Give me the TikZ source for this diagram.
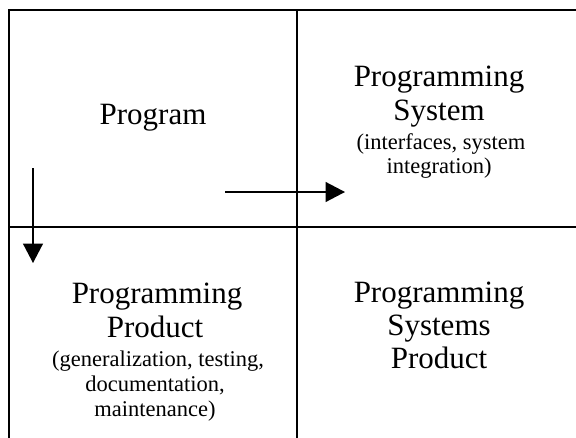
\documentclass[tikz,border=0pt]{standalone}
\usepackage{fontspec}
\setmainfont{Liberation Serif}
\usetikzlibrary{arrows.meta}
\begin{document}
\begin{tikzpicture}[x=1pt,y=-1pt,
  frame/.style={line width=1.8pt,line cap=rect},
  topline/.style={line width=1.5pt},
  midline/.style={line width=2.2pt},
  flow/.style={line width=1.5pt,-{Triangle[length=19.5pt,width=20pt]}},
  big/.style={font=\fontsize{31}{34}\selectfont,inner sep=0pt,anchor=base},
  small/.style={font=\fontsize{22.5}{24}\selectfont,inner sep=0pt,anchor=base}]
\useasboundingbox (0,0) rectangle (576,437);
% grid
\draw[topline] (9,10) -- (576,10);
\draw[frame] (9,10) -- (9,437);
\draw[frame] (297,10) -- (297,437);
\draw[midline] (9,227) -- (576,227);
% top-left
\node[big] (prog) at (153,124) {Program};
% top-right
\node[big] (ps1) at (439,86) {Programming};
\node[big] (ps2) at (439,120) {System};
\node[small] (ps3) at (441,149) {(interfaces, system};
\node[small] (ps4) at (439,173) {integration)};
% bottom-left
\node[big] (pp1) at (157,303) {Programming};
\node[big] (pp2) at (155,337) {Product};
\node[small] (pp3) at (158,366) {(generalization, testing,};
\node[small] (pp4) at (155,391) {documentation,};
\node[small] (pp5) at (155,416) {maintenance)};
% bottom-right
\node[big] (psp1) at (439,302) {Programming};
\node[big] (psp2) at (439,335) {Systems};
\node[big] (psp3) at (439,368) {Product};
% arrows
\coordinate (d0) at (33,168);
\coordinate (d1) at (33,263);
\coordinate (r0) at (225,192);
\coordinate (r1) at (345,192);
\draw[flow] (d0) -- (d1);
\draw[flow] (r0) -- (r1);
\end{tikzpicture}
\end{document}
